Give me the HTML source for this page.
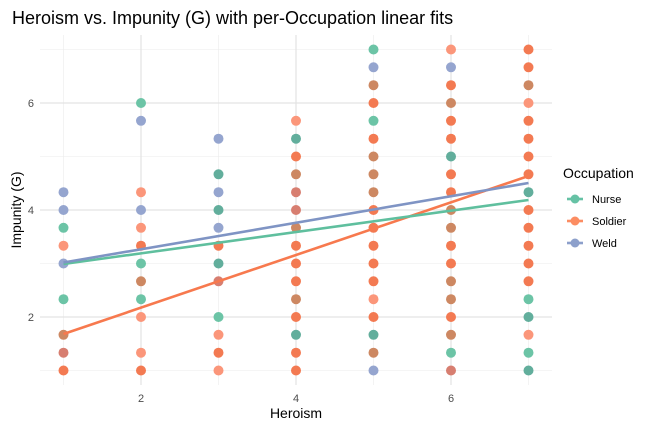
<!DOCTYPE html>
<html><head><meta charset="utf-8"><style>
body{margin:0;background:#fff}
svg{display:block;font-family:"Liberation Sans",Arial,sans-serif}
.g{fill:#6cc4a6}.o{fill:#f37a52}.s{fill:#fb967a}.b{fill:#95a5cf}.br{fill:#cd8862}.t{fill:#62ae9c}.r{fill:#d77e70}
</style></head><body>
<svg width="672" height="432" viewBox="0 0 672 432">
<g stroke="#ebebeb" stroke-width="0.6">
<line x1="63.5" y1="35" x2="63.5" y2="385"/><line x1="218.5" y1="35" x2="218.5" y2="385"/><line x1="373.5" y1="35" x2="373.5" y2="385"/><line x1="528.5" y1="35" x2="528.5" y2="385"/>
<line x1="40" y1="49.5" x2="552" y2="49.5"/><line x1="40" y1="156.5" x2="552" y2="156.5"/><line x1="40" y1="263.5" x2="552" y2="263.5"/><line x1="40" y1="370.5" x2="552" y2="370.5"/>
</g>
<g stroke="#e3e3e3" stroke-width="1.2">
<line x1="141" y1="35" x2="141" y2="385"/><line x1="296" y1="35" x2="296" y2="385"/><line x1="451" y1="35" x2="451" y2="385"/>
<line x1="40" y1="103" x2="552" y2="103"/><line x1="40" y1="210" x2="552" y2="210"/><line x1="40" y1="317" x2="552" y2="317"/>
</g>
<g>
<circle cx="63.5" cy="192.2" r="5" class="b"/><circle cx="63.5" cy="210" r="5" class="b"/><circle cx="63.5" cy="227.8" r="5" class="g"/><circle cx="63.5" cy="245.7" r="5" class="s"/><circle cx="63.5" cy="263.5" r="5" class="b"/><circle cx="63.5" cy="299.2" r="5" class="g"/><circle cx="63.5" cy="334.8" r="5" class="br"/><circle cx="63.5" cy="352.7" r="5" class="r"/><circle cx="63.5" cy="370.5" r="5" class="o"/>
<circle cx="141" cy="103" r="5" class="g"/><circle cx="141" cy="120.8" r="5" class="b"/><circle cx="141" cy="192.2" r="5" class="s"/><circle cx="141" cy="210" r="5" class="b"/><circle cx="141" cy="227.8" r="5" class="s"/><circle cx="141" cy="245.7" r="5" class="o"/><circle cx="141" cy="263.5" r="5" class="g"/><circle cx="141" cy="281.3" r="5" class="br"/><circle cx="141" cy="299.2" r="5" class="g"/><circle cx="141" cy="317" r="5" class="s"/><circle cx="141" cy="352.7" r="5" class="s"/><circle cx="141" cy="370.5" r="5" class="o"/>
<circle cx="218.5" cy="138.7" r="5" class="b"/><circle cx="218.5" cy="174.3" r="5" class="t"/><circle cx="218.5" cy="192.2" r="5" class="b"/><circle cx="218.5" cy="210" r="5" class="t"/><circle cx="218.5" cy="227.8" r="5" class="b"/><circle cx="218.5" cy="245.7" r="5" class="o"/><circle cx="218.5" cy="263.5" r="5" class="t"/><circle cx="218.5" cy="281.3" r="5" class="r"/><circle cx="218.5" cy="317" r="5" class="g"/><circle cx="218.5" cy="334.8" r="5" class="s"/><circle cx="218.5" cy="352.7" r="5" class="o"/><circle cx="218.5" cy="370.5" r="5" class="s"/>
<circle cx="296" cy="120.8" r="5" class="s"/><circle cx="296" cy="138.7" r="5" class="t"/><circle cx="296" cy="156.5" r="5" class="o"/><circle cx="296" cy="174.3" r="5" class="br"/><circle cx="296" cy="192.2" r="5" class="r"/><circle cx="296" cy="210" r="5" class="r"/><circle cx="296" cy="227.8" r="5" class="br"/><circle cx="296" cy="245.7" r="5" class="o"/><circle cx="296" cy="263.5" r="5" class="o"/><circle cx="296" cy="281.3" r="5" class="o"/><circle cx="296" cy="299.2" r="5" class="br"/><circle cx="296" cy="317" r="5" class="o"/><circle cx="296" cy="334.8" r="5" class="t"/><circle cx="296" cy="352.7" r="5" class="o"/><circle cx="296" cy="370.5" r="5" class="o"/>
<circle cx="373.5" cy="49.5" r="5" class="g"/><circle cx="373.5" cy="67.3" r="5" class="b"/><circle cx="373.5" cy="85.2" r="5" class="br"/><circle cx="373.5" cy="103" r="5" class="o"/><circle cx="373.5" cy="120.8" r="5" class="g"/><circle cx="373.5" cy="138.7" r="5" class="o"/><circle cx="373.5" cy="156.5" r="5" class="br"/><circle cx="373.5" cy="174.3" r="5" class="br"/><circle cx="373.5" cy="192.2" r="5" class="br"/><circle cx="373.5" cy="210" r="5" class="o"/><circle cx="373.5" cy="227.8" r="5" class="o"/><circle cx="373.5" cy="245.7" r="5" class="o"/><circle cx="373.5" cy="263.5" r="5" class="o"/><circle cx="373.5" cy="281.3" r="5" class="o"/><circle cx="373.5" cy="299.2" r="5" class="s"/><circle cx="373.5" cy="317" r="5" class="o"/><circle cx="373.5" cy="334.8" r="5" class="t"/><circle cx="373.5" cy="352.7" r="5" class="br"/><circle cx="373.5" cy="370.5" r="5" class="b"/>
<circle cx="451" cy="49.5" r="5" class="s"/><circle cx="451" cy="67.3" r="5" class="b"/><circle cx="451" cy="85.2" r="5" class="o"/><circle cx="451" cy="103" r="5" class="br"/><circle cx="451" cy="120.8" r="5" class="o"/><circle cx="451" cy="138.7" r="5" class="o"/><circle cx="451" cy="156.5" r="5" class="t"/><circle cx="451" cy="174.3" r="5" class="o"/><circle cx="451" cy="192.2" r="5" class="o"/><circle cx="451" cy="210" r="5" class="br"/><circle cx="451" cy="227.8" r="5" class="br"/><circle cx="451" cy="245.7" r="5" class="o"/><circle cx="451" cy="263.5" r="5" class="o"/><circle cx="451" cy="281.3" r="5" class="br"/><circle cx="451" cy="299.2" r="5" class="br"/><circle cx="451" cy="317" r="5" class="o"/><circle cx="451" cy="334.8" r="5" class="br"/><circle cx="451" cy="352.7" r="5" class="g"/><circle cx="451" cy="370.5" r="5" class="r"/>
<circle cx="528.5" cy="49.5" r="5" class="o"/><circle cx="528.5" cy="67.3" r="5" class="o"/><circle cx="528.5" cy="85.2" r="5" class="br"/><circle cx="528.5" cy="103" r="5" class="s"/><circle cx="528.5" cy="120.8" r="5" class="o"/><circle cx="528.5" cy="138.7" r="5" class="o"/><circle cx="528.5" cy="156.5" r="5" class="o"/><circle cx="528.5" cy="174.3" r="5" class="o"/><circle cx="528.5" cy="192.2" r="5" class="t"/><circle cx="528.5" cy="210" r="5" class="o"/><circle cx="528.5" cy="227.8" r="5" class="o"/><circle cx="528.5" cy="245.7" r="5" class="o"/><circle cx="528.5" cy="263.5" r="5" class="o"/><circle cx="528.5" cy="281.3" r="5" class="o"/><circle cx="528.5" cy="299.2" r="5" class="g"/><circle cx="528.5" cy="317" r="5" class="t"/><circle cx="528.5" cy="334.8" r="5" class="s"/><circle cx="528.5" cy="352.7" r="5" class="g"/><circle cx="528.5" cy="370.5" r="5" class="t"/>
</g>
<g stroke-width="2.6">
<line x1="63.5" y1="334" x2="528.5" y2="176" stroke="#f7794e"/>
<line x1="63.5" y1="264" x2="528.5" y2="200" stroke="#5fbf9e"/>
<line x1="63.5" y1="262.5" x2="528.5" y2="183" stroke="#7f94c4"/>
</g>
<g font-size="11" fill="#4d4d4d">
<text x="141" y="402" text-anchor="middle">2</text><text x="296" y="402" text-anchor="middle">4</text><text x="451" y="402" text-anchor="middle">6</text>
<text x="34" y="107" text-anchor="end">6</text><text x="34" y="214" text-anchor="end">4</text><text x="34" y="321" text-anchor="end">2</text>
</g>
<text x="296" y="418" font-size="14" text-anchor="middle" fill="#000">Heroism</text>
<text transform="translate(21,210) rotate(-90)" font-size="14" text-anchor="middle" fill="#000">Impunity (G)</text>
<text x="12" y="24" font-size="18" fill="#000">Heroism vs. Impunity (G) with per-Occupation linear fits</text>
<text x="563" y="178" font-size="14" fill="#000">Occupation</text>
<g stroke-width="2.6">
<line x1="567" y1="199" x2="583" y2="199" stroke="#66c2a5"/><circle cx="575" cy="199" r="4.5" fill="#66c2a5"/>
<line x1="567" y1="221" x2="583" y2="221" stroke="#fc8d62"/><circle cx="575" cy="221" r="4.5" fill="#fc8d62"/>
<line x1="567" y1="243" x2="583" y2="243" stroke="#8da0cb"/><circle cx="575" cy="243" r="4.5" fill="#8da0cb"/>
</g>
<g font-size="11" fill="#000">
<text x="592" y="203">Nurse</text><text x="592" y="225">Soldier</text><text x="592" y="247">Weld</text>
</g>
</svg>
</body></html>
